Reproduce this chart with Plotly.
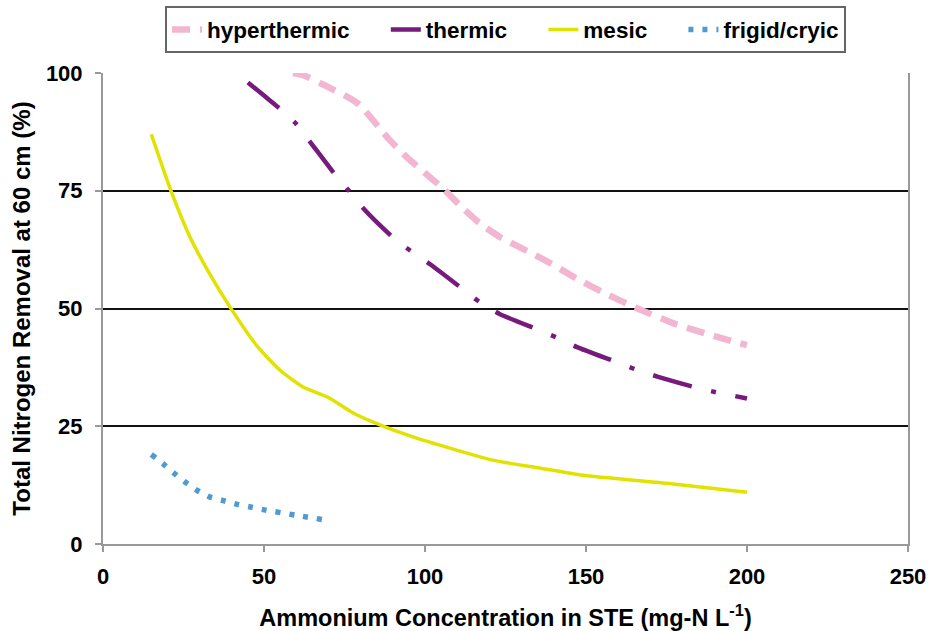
import plotly.graph_objects as go

# Data
hyper_x = [59, 62, 70, 79, 89, 95, 101, 106, 111, 117, 123, 132, 139, 147, 156, 166, 177, 188, 200]
hyper_y = [100, 99.6, 97, 93.6, 85.8, 81.7, 78.2, 75.2, 71.8, 68.1, 65.3, 62.1, 59.6, 56.4, 53.2, 50, 46.9, 44.5, 42.2]

thermic_x = [45, 50, 55, 60, 64.3, 72, 76.4, 80.8, 90.2, 95.6, 101.6, 111.4, 117.1, 123.3, 134.7,
             141.4, 147.2, 159.6, 166, 172.4, 184.8, 191.9, 200]
thermic_y = [98, 95.2, 92.4, 89.2, 85.4, 78.5, 75, 71.3, 65, 62.2, 59.4, 54.3, 51.3, 48.8, 45.6,
             43.7, 41.8, 38.6, 36.9, 35.5, 33.1, 32, 30.9]

mesic_x = [15, 21, 27, 33, 40, 48, 55, 62, 70, 78, 86, 96, 108, 121, 135, 149, 175, 200]
mesic_y = [87, 75.2, 65.2, 57.5, 49.7, 41.9, 36.9, 33.4, 31.1, 27.7, 25.3, 22.8, 20.3, 17.8, 16.2, 14.6, 12.9, 11]

frigid_x = [15, 18.7, 22.1, 25.6, 29.2, 33.1, 37.4, 41.8, 46.2, 50.5, 60, 68]
frigid_y = [19, 17, 15, 13.1, 11.4, 10, 9.2, 8.4, 7.8, 7.2, 6.1, 5.2]

x_ticks = [0, 50, 100, 150, 200, 250]
y_ticks = [0, 25, 50, 75, 100]

FONT = "Liberation Sans, Arial, sans-serif"
NB = "\u00a0"

fig = go.Figure()
fig.add_trace(go.Scatter(x=hyper_x, y=hyper_y, name="hyperthermic" + NB * 5, mode="lines",
                         line=dict(color="#F2B6D0", width=6.5, dash="18px,10px", shape="spline", smoothing=0.6)))
fig.add_trace(go.Scatter(x=thermic_x, y=thermic_y, name="thermic" + NB * 5, mode="lines",
                         line=dict(color="#761A7C", width=4.5, dash="40px,20px,5px,20px", shape="spline", smoothing=0.6)))
fig.add_trace(go.Scatter(x=mesic_x, y=mesic_y, name="mesic" + NB * 5, mode="lines",
                         line=dict(color="#E2E200", width=3.5, shape="spline", smoothing=0.6)))
fig.add_trace(go.Scatter(x=frigid_x, y=frigid_y, name="frigid/cryic", mode="lines",
                         line=dict(color="#4E9BD2", width=5.5, dash="5px,9px", shape="spline", smoothing=0.6)))

fig.update_layout(
    width=930, height=631,
    margin=dict(l=103, r=22, t=73, b=87),
    paper_bgcolor="white", plot_bgcolor="white",
    font=dict(family=FONT, size=22, color="black"),
    legend=dict(orientation="h", x=0.5, xanchor="center", yref="container", y=0.99, yanchor="top",
                bordercolor="#666666", borderwidth=2, bgcolor="white",
                font=dict(family=FONT, size=22.5, color="black", weight="bold")),
    xaxis=dict(range=[0, 250], tickvals=x_ticks, showgrid=False, zeroline=False, automargin=False,
               showline=True, linecolor="#999999", linewidth=2,
               ticks="outside", ticklen=6, tickcolor="#999999", tickwidth=1.5, ticklabelstandoff=6,
               tickfont=dict(family=FONT, size=22, weight="bold"),
               title=dict(text="Ammonium Concentration in STE (mg-N L<sup>-1</sup>)",
                          font=dict(family=FONT, size=23.5, weight="bold"), standoff=22)),
    yaxis=dict(range=[0, 100], tickvals=y_ticks, showgrid=True, gridcolor="#111111", gridwidth=1.5,
               zeroline=False, showline=True, linecolor="#999999", linewidth=2, mirror=True, automargin=False,
               ticks="outside", ticklen=6, tickcolor="#999999", tickwidth=1.5, ticklabelstandoff=8,
               tickfont=dict(family=FONT, size=22, weight="bold"),
               title=dict(text="Total Nitrogen Removal at 60 cm (%)",
                          font=dict(family=FONT, size=24, weight="bold"), standoff=8)),
)

fig.write_html("out.html")
